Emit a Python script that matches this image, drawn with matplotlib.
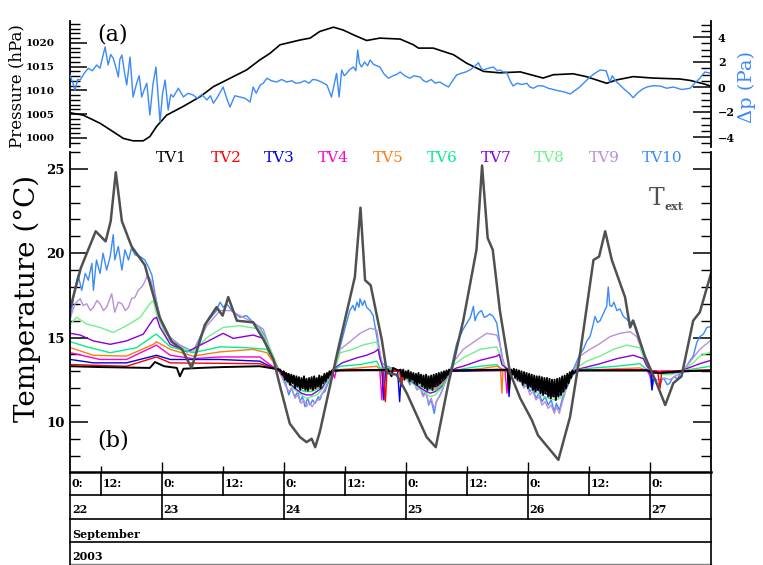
import numpy as np
import matplotlib.pyplot as plt
from matplotlib.ticker import MultipleLocator

plt.rcParams['font.family'] = ['DejaVu Serif']

# time axis: hours since 22 Sep 2003 00:00
# ---- panel (a) ----
pressure = [(6.0, 1005.3), (8.6, 1004.8), (11.9, 1003.1), (14.5, 1001.3), (16.5, 999.9), (18.4, 999.4),
            (20.4, 999.4), (21.7, 1000.3), (23.0, 1002.4), (25.0, 1004.8), (28.2, 1006.6), (31.6, 1008.7),
            (34.2, 1010.8), (36.8, 1012.2), (40.7, 1014.3), (43.3, 1016.4), (45.3, 1017.8), (47.3, 1019.6),
            (51.2, 1020.6), (53.2, 1021.0), (55.1, 1022.4), (57.8, 1023.3), (59.7, 1022.7), (61.7, 1021.7),
            (64.3, 1020.5), (66.9, 1021.0), (70.9, 1020.8), (73.5, 1019.6), (74.5, 1018.9), (77.4, 1018.9),
            (81.4, 1017.5), (84.0, 1015.7), (87.3, 1014.0), (90.5, 1013.7), (94.5, 1013.9), (99.0, 1012.6),
            (101.0, 1013.3), (104.9, 1013.5), (107.5, 1012.9), (111.5, 1011.5), (113.4, 1012.2), (116.7, 1012.9),
            (120.6, 1012.6), (125.9, 1012.4), (127.9, 1012.1), (130.5, 1011.4), (132.0, 1010.9)]

delta_p = [(6.0, 0.96), (6.5, 0.4), (7.0, -0.24), (7.5, 0.6), (8.0, 0.56), (8.8, 1.1), (9.6, 1.5), (10.4, 1.3),
           (11.25, 1.76), (11.9, 1.5), (12.3, 2.2), (12.9, 3.2), (13.5, 1.76), (14.0, 2.6), (14.5, 2.3),
           (15.0, 1.6), (15.5, 0.8), (15.8, 2.2), (16.2, 2.56), (16.7, 1.2), (17.15, 0.16), (17.8, 2.4),
           (18.4, -0.8), (19.1, 0.3), (19.6, 0.9), (20.1, -0.8), (20.6, -0.2), (21.1, 0.3), (21.7, -2.24),
           (22.3, 0.2), (22.9, 1.6), (23.7, -2.8), (24.2, -0.5), (24.7, 0.56), (25.3, -1.84), (25.8, -0.6),
           (26.3, -0.8), (27.3, -0.1), (28.3, -0.8), (29.2, -0.5), (30.2, -0.64), (31.0, -0.9), (31.9, -0.6),
           (32.9, -1.04), (33.6, -0.7), (34.2, -1.3), (35.0, -0.8), (36.1, 0.0), (36.8, -0.9), (37.45, -1.6),
           (38.4, -0.7), (39.4, -0.8), (40.4, -0.9), (41.4, -1.2), (42.0, 0.0), (42.6, -0.5), (43.4, 0.16),
           (44.0, 0.3), (44.7, 0.7), (45.6, 0.5), (46.6, 0.4), (47.6, 0.6), (48.6, 0.4), (49.6, 0.5),
           (50.4, 0.3), (51.2, 0.34), (52.1, 0.5), (53.0, 0.3), (53.7, 0.6), (54.5, 0.56), (55.4, 0.4),
           (56.5, 0.16), (57.4, -0.8), (58.4, 1.1), (58.9, -0.8), (59.4, 1.36), (59.9, 0.9), (60.4, 1.1),
           (61.0, 1.4), (61.7, 1.6), (62.2, 1.3), (62.55, 2.96), (62.9, 1.9), (63.3, 1.6), (63.9, 2.0),
           (64.5, 1.7), (65.0, 2.16), (65.7, 1.8), (66.9, 1.6), (67.8, 1.0), (68.6, 0.7), (69.5, 0.9),
           (70.2, 1.0), (70.9, 1.2), (71.8, 0.9), (72.8, 0.7), (73.6, 0.9), (74.8, 0.8), (75.5, 0.5),
           (76.1, 0.4), (77.0, 0.6), (77.8, 0.3), (78.7, 0.4), (79.5, 0.2), (80.4, 0.0), (81.2, 0.5),
           (82.0, 0.96), (82.9, 1.1), (83.8, 1.2), (84.6, 1.36), (85.4, 1.6), (86.3, 1.94), (86.8, 1.5),
           (87.2, 1.36), (88.2, 1.5), (89.2, 1.6), (90.0, 1.3), (90.5, 1.36), (91.2, 1.2), (91.8, 1.2),
           (92.5, 0.5), (93.1, 0.08), (93.9, 0.3), (94.8, 0.2), (95.8, 0.3), (96.4, 0.0), (97.1, -0.1),
           (98.0, 0.1), (99.0, 0.08), (100.0, -0.1), (101.0, -0.2), (102.0, -0.3), (103.2, -0.4),
           (104.3, -0.56), (105.2, -0.3), (106.2, 0.0), (107.2, 0.4), (108.2, 0.8), (109.2, 1.1),
           (110.2, 1.36), (111.4, 1.3), (112.1, 0.4), (112.6, 0.9), (113.2, 0.5), (114.1, 0.16), (115.0, -0.2),
           (115.9, -0.5), (116.7, -0.86), (117.5, -0.5), (118.4, -0.2), (119.4, 0.0), (120.6, 0.1),
           (122.0, 0.08), (123.3, -0.1), (124.6, 0.0), (126.2, -0.2), (127.9, -0.1), (128.8, 0.3),
           (129.8, 0.7), (130.8, 1.2), (132.0, 1.1)]

# ---- panel (b) ----
text_ext = [(6.1, 16.8), (8.1, 19.1), (11.05, 21.3), (13.0, 20.7), (14.0, 21.9), (15.0, 24.8), (16.2, 21.9),
            (18.1, 20.4), (20.7, 19.3), (23.6, 16.2), (26.0, 14.75), (28.0, 14.3), (29.9, 13.2), (32.5, 15.75),
            (34.8, 16.8), (36.0, 16.3), (37.1, 17.4), (38.8, 16.0), (42.0, 15.9), (44.0, 14.9), (46.0, 13.7),
            (47.3, 12.1), (49.2, 9.9), (51.2, 9.1), (52.5, 8.8), (53.5, 9.0), (54.2, 8.5), (55.1, 9.4),
            (58.7, 14.3), (62.0, 18.6), (63.1, 22.7), (64.0, 18.4), (65.1, 18.1), (67.3, 14.85), (68.3, 12.9),
            (70.2, 12.8), (72.2, 11.7), (76.1, 9.1), (77.9, 8.5), (80.4, 12.3), (83.3, 16.0), (85.9, 20.2),
            (87.0, 25.2), (88.1, 20.9), (89.1, 20.2), (90.5, 16.6), (92.5, 12.9), (94.5, 11.4), (96.8, 10.1),
            (98.0, 9.2), (102.0, 7.75), (104.3, 10.3), (106.2, 13.9), (108.9, 19.6), (110.0, 19.8),
            (111.2, 21.3), (112.5, 19.6), (115.1, 17.4), (116.1, 15.6), (116.7, 16.0), (119.0, 13.9),
            (121.3, 12.3), (123.0, 11.0), (124.6, 12.3), (126.2, 12.7), (128.5, 16.0), (129.8, 16.5),
            (132.0, 18.8)]

tv10 = [(6.1, 16.2), (7.0, 18.0), (7.6, 18.7), (8.3, 17.8), (9.0, 18.8), (9.6, 18.4), (10.3, 19.4), (10.6, 17.8),
        (11.2, 19.6), (11.9, 18.8), (12.5, 20.0), (13.2, 19.0), (13.9, 19.8), (14.5, 21.1), (14.8, 19.6),
        (15.5, 20.4), (16.2, 19.0), (16.8, 20.2), (17.5, 19.6), (18.1, 20.3), (18.8, 19.9), (19.8, 19.8),
        (20.7, 19.6), (21.4, 19.2), (22.1, 18.7), (22.7, 17.6), (23.4, 16.6), (24.3, 15.6), (25.7, 15.0),
        (27.6, 14.55), (30.2, 14.15), (32.9, 15.9), (34.8, 16.6), (35.5, 17.1), (36.1, 16.8), (36.8, 17.0),
        (37.8, 16.6), (39.4, 16.2), (40.7, 16.3), (42.0, 15.9), (43.3, 15.6), (44.7, 14.85), (46.0, 13.6),
        (47.3, 12.9), (48.3, 12.4), (49.0, 11.6), (49.5, 12.0), (50.2, 11.5), (50.8, 11.8), (51.2, 11.2),
        (51.7, 11.5), (52.2, 10.9), (52.7, 11.4), (53.2, 11.0), (53.7, 11.3), (54.2, 11.1), (54.8, 11.5),
        (55.1, 11.3), (55.6, 11.7), (56.1, 11.8), (56.6, 12.2), (57.1, 12.5), (57.6, 13.0), (58.2, 13.4),
        (59.1, 14.45), (60.0, 15.5), (61.0, 16.6), (61.6, 16.9), (62.0, 16.6), (62.4, 17.1), (62.8, 16.8),
        (63.0, 17.3), (63.5, 16.9), (63.9, 17.2), (64.3, 16.8), (65.0, 16.6), (65.6, 16.3), (66.3, 15.05),
        (66.9, 14.0), (67.3, 13.5), (68.3, 13.3), (69.2, 13.2), (70.0, 13.1), (71.0, 13.0), (72.0, 12.7),
        (72.8, 12.2), (73.5, 12.5), (74.2, 11.9), (74.8, 12.1), (75.4, 11.6), (76.0, 11.8), (76.5, 11.0),
        (77.0, 11.3), (77.6, 10.5), (78.0, 11.2), (78.6, 11.5), (79.2, 11.9), (79.8, 12.4), (80.4, 12.9),
        (81.0, 13.3), (82.0, 14.65), (83.3, 15.5), (84.0, 15.85), (84.7, 16.2), (85.3, 16.85), (85.6, 16.0),
        (85.9, 16.25), (86.4, 16.5), (86.9, 16.6), (87.4, 16.2), (87.9, 16.25), (88.5, 16.4), (89.2, 16.25),
        (89.9, 15.85), (90.5, 14.65), (91.2, 13.45), (91.8, 13.1), (92.5, 13.0), (93.3, 12.9), (94.0, 12.5),
        (94.6, 12.7), (95.2, 12.1), (95.8, 12.4), (96.4, 11.8), (97.0, 12.0), (97.6, 11.4), (98.2, 11.7),
        (98.8, 11.2), (99.4, 11.5), (100.0, 11.0), (100.6, 11.3), (101.2, 10.6), (101.6, 11.1), (102.2, 10.7),
        (102.8, 11.4), (103.4, 11.9), (104.0, 12.4), (104.6, 12.9), (105.5, 13.5), (106.2, 14.0), (106.9, 14.3),
        (107.6, 14.8), (108.2, 15.05), (108.7, 15.6), (109.2, 16.25), (109.7, 15.9), (110.2, 16.0),
        (110.8, 16.4), (111.5, 16.85), (111.8, 18.0), (112.1, 16.9), (112.5, 16.85), (112.9, 17.1),
        (113.5, 16.6), (114.1, 16.7), (114.8, 16.25), (115.4, 16.1), (116.1, 15.85), (116.7, 16.05),
        (117.4, 15.5), (118.0, 14.85), (118.7, 14.0), (119.4, 13.45), (120.0, 12.8), (120.4, 11.9),
        (120.8, 12.6), (121.3, 12.3), (122.0, 12.2), (122.5, 12.6), (122.9, 12.5), (123.4, 12.2),
        (123.9, 12.3), (124.4, 12.6), (124.9, 12.7), (125.4, 12.5), (125.9, 12.9), (126.7, 13.1),
        (127.2, 13.3), (127.8, 13.6), (128.5, 13.9), (129.2, 14.7), (129.8, 15.05), (130.5, 15.2),
        (131.2, 15.6), (132.0, 15.65)]

tv9 = [(6.1, 16.2), (7.0, 17.0), (8.0, 17.3), (8.6, 16.9), (9.3, 17.0), (10.0, 16.6), (10.6, 16.8), (11.3, 17.2),
       (11.9, 17.0), (12.6, 16.6), (13.2, 16.8), (14.2, 17.6), (14.8, 16.5), (15.5, 17.1), (16.2, 17.0),
       (16.9, 16.6), (17.5, 16.8), (18.1, 17.3), (18.8, 17.4), (19.4, 17.8), (20.1, 18.0), (20.7, 18.3),
       (21.2, 18.7), (21.9, 18.4),
       (22.7, 17.4), (23.7, 16.2), (25.0, 15.2), (27.0, 14.65), (30.2, 14.15), (32.9, 15.7), (35.5, 16.6),
       (37.5, 16.6), (39.4, 16.3), (42.0, 15.9), (44.0, 15.5), (46.0, 13.7), (47.3, 12.9), (48.3, 12.2),
       (49.0, 11.8), (49.6, 12.0), (50.2, 11.4), (50.8, 11.6), (51.4, 11.1), (52.0, 11.3), (52.5, 10.9),
       (53.0, 11.2), (53.6, 10.9), (54.2, 11.2), (54.8, 11.3), (55.4, 11.6), (56.0, 11.9), (56.6, 12.3),
       (57.1, 12.6), (57.6, 13.0), (58.5, 13.6), (59.1, 14.3), (61.0, 14.75), (63.0, 15.25), (65.0, 15.55),
       (66.3, 15.45), (66.9, 14.2), (67.3, 13.5), (68.3, 13.25), (71.0, 13.0), (72.0, 12.6), (72.8, 12.3),
       (73.5, 12.4), (74.2, 11.9), (74.8, 12.0), (75.4, 11.5), (76.0, 11.7), (76.5, 11.1), (77.0, 11.4),
       (77.6, 10.8), (78.2, 11.3), (78.8, 11.6), (79.4, 12.1), (80.0, 12.5), (80.7, 13.0), (81.5, 13.6),
       (83.3, 14.3), (85.9, 14.85), (87.9, 15.25), (89.9, 15.15), (90.5, 14.6), (90.9, 13.9), (91.5, 13.3),
       (92.5, 13.0), (93.3, 12.8), (94.0, 12.4), (94.6, 12.5), (95.2, 12.0), (95.8, 12.2), (96.4, 11.6),
       (97.0, 11.8), (97.6, 11.3), (98.2, 11.5), (98.8, 11.0), (99.4, 11.2), (100.0, 10.8), (100.6, 11.0),
       (101.2, 10.5), (101.6, 10.9), (102.2, 10.5), (102.8, 11.2), (103.4, 11.8), (104.0, 12.3),
       (104.6, 12.8), (105.5, 13.3), (106.2, 13.9), (108.2, 14.3), (110.2, 14.65), (112.1, 15.05),
       (114.1, 15.25), (116.1, 15.35), (117.4, 15.05), (118.7, 14.05), (119.4, 13.4), (120.0, 13.0),
       (120.6, 12.7), (121.3, 12.5), (122.0, 12.5), (122.9, 12.6), (123.9, 12.5), (124.9, 12.7),
       (125.9, 12.9), (126.7, 13.1), (127.2, 13.3), (128.5, 13.8), (129.8, 14.3), (131.0, 14.6), (132.0, 14.85)]

tv8 = [(6.1, 15.8), (7.3, 16.2), (9.3, 15.8), (11.9, 15.6), (14.5, 15.3), (17.1, 15.7), (19.8, 16.2), (21.7, 17.0),
       (22.4, 17.2), (23.0, 16.4), (25.0, 15.0), (27.0, 14.5), (30.2, 14.15), (32.9, 15.0), (36.1, 15.6),
       (39.4, 15.7), (43.3, 15.5), (45.3, 14.4), (47.3, 12.9), (48.5, 12.4), (50.2, 11.9), (51.5, 11.6),
       (52.5, 11.4), (53.5, 11.5), (54.5, 11.6), (55.5, 11.9), (56.5, 12.4), (57.6, 13.0), (58.5, 13.5),
       (59.1, 14.1), (61.5, 14.3), (63.5, 14.55), (66.3, 14.75), (66.9, 13.8), (67.5, 13.3), (68.3, 13.2),
       (71.0, 13.0), (72.5, 12.5), (74.0, 12.1), (75.5, 11.8), (76.8, 11.5), (77.8, 11.6), (79.0, 12.0),
       (80.0, 12.5), (80.7, 13.0), (81.5, 13.4), (83.3, 13.8), (86.6, 14.3), (89.9, 14.45), (90.9, 13.6),
       (91.8, 13.1), (92.5, 13.0), (94.0, 12.6), (95.5, 12.2), (97.0, 11.9), (98.5, 11.6), (100.0, 11.4),
       (101.3, 11.3), (102.3, 11.4), (103.5, 11.9), (104.6, 12.7), (105.5, 13.2), (107.6, 13.6), (110.2, 13.9),
       (112.8, 14.3), (115.4, 14.55), (118.0, 14.4), (119.0, 13.6), (119.8, 13.2), (121.0, 12.9),
       (122.5, 12.8), (124.0, 12.8), (125.5, 12.9), (126.7, 13.1), (128.5, 13.5), (129.8, 13.9), (132.0, 14.15)]

tv7 = [(6.1, 15.25), (8.0, 15.15), (10.6, 14.8), (13.9, 14.6), (17.1, 14.8), (20.4, 15.2), (22.4, 16.1),
       (23.0, 16.2), (23.7, 15.6), (25.7, 14.6), (29.0, 14.15), (32.9, 14.75), (36.1, 15.25), (38.1, 14.95),
       (42.0, 15.15), (44.0, 14.95), (46.0, 13.7), (47.3, 12.9), (48.5, 12.5), (50.2, 12.0), (51.5, 11.7),
       (52.5, 11.6), (53.5, 11.6), (54.5, 11.8), (55.5, 12.0), (56.5, 12.5), (57.6, 13.0), (58.5, 13.3),
       (59.5, 13.5), (62.4, 13.8), (64.3, 13.95), (65.9, 14.15), (66.6, 14.3), (66.9, 13.8), (67.5, 13.2),
       (68.3, 13.15), (71.0, 13.0), (72.5, 12.6), (74.0, 12.2), (75.5, 11.9), (76.8, 11.7), (77.8, 11.8),
       (79.0, 12.1), (80.0, 12.6), (80.7, 13.0), (82.0, 13.2), (83.3, 13.3), (86.6, 13.65), (89.9, 13.9),
       (90.4, 14.0), (90.9, 13.4), (92.5, 13.0), (94.0, 12.7), (95.5, 12.3), (97.0, 12.0), (98.5, 11.8),
       (100.0, 11.6), (101.3, 11.5), (102.3, 11.6), (103.5, 12.0), (104.6, 12.7), (105.5, 13.1),
       (106.9, 13.2), (110.2, 13.45), (113.5, 13.75), (116.7, 13.95), (118.7, 13.75), (119.4, 13.3),
       (120.5, 13.0), (122.5, 12.9), (124.5, 12.9), (126.7, 13.1), (128.5, 13.3), (129.8, 13.45), (132.0, 13.65)]

tv6 = [(6.1, 14.75), (9.3, 14.45), (13.9, 14.1), (19.1, 14.4), (22.4, 15.1), (23.0, 15.2), (25.7, 14.45),
       (30.2, 14.1), (35.5, 14.45), (40.7, 14.4), (44.7, 14.3), (46.6, 13.3), (47.6, 12.9), (49.0, 12.5),
       (50.5, 12.1), (52.0, 11.8), (53.5, 11.8), (55.0, 12.0), (56.5, 12.5), (57.6, 13.0), (59.1, 13.3),
       (63.0, 13.4), (66.3, 13.6), (66.9, 13.2), (71.0, 13.0), (72.5, 12.6), (74.5, 12.2), (76.5, 11.9),
       (78.0, 11.9), (79.5, 12.3), (80.7, 13.0), (83.3, 13.15), (86.6, 13.3), (89.9, 13.4), (90.9, 13.1),
       (92.5, 13.0), (94.0, 12.7), (96.0, 12.3), (98.0, 12.0), (100.0, 11.8), (101.5, 11.7), (103.0, 11.9),
       (104.6, 12.7), (106.0, 13.1), (109.0, 13.2), (113.5, 13.3), (118.0, 13.45), (119.4, 13.1),
       (121.0, 12.95), (124.0, 12.9), (126.7, 13.05), (129.8, 13.2), (132.0, 13.3)]

tv5 = [(6.1, 14.4), (10.6, 13.95), (17.1, 13.9), (22.4, 14.6), (23.0, 14.75), (25.7, 14.3), (30.2, 13.9),
       (35.5, 14.15), (42.0, 14.3), (44.7, 14.1), (47.3, 12.95), (49.0, 12.6), (50.5, 12.2), (52.0, 12.0),
       (53.5, 11.9), (55.0, 12.1), (56.5, 12.6), (57.6, 13.0), (59.1, 13.1), (66.3, 13.3), (66.9, 13.1),
       (71.0, 13.0), (72.5, 12.7), (74.5, 12.3), (76.5, 12.0), (78.0, 12.0), (79.5, 12.4), (80.7, 13.0),
       (86.6, 13.15), (89.9, 13.3), (90.6, 13.2), (90.9, 11.7), (91.1, 13.1), (92.5, 13.0), (94.0, 12.7),
       (96.0, 12.4), (98.0, 12.1), (100.0, 11.9), (101.5, 11.8), (103.0, 12.0), (104.6, 12.8), (106.0, 13.05),
       (113.5, 13.15), (118.0, 13.2), (119.4, 13.05), (124.0, 12.95), (127.0, 13.05), (132.0, 13.1)]

tv4 = [(6.1, 14.1), (11.9, 13.7), (17.1, 13.7), (23.0, 14.55), (25.7, 13.95), (30.2, 13.75), (35.5, 13.85),
       (43.3, 13.85), (47.3, 12.95), (49.0, 12.6), (50.5, 12.3), (52.0, 12.1), (53.5, 12.0), (55.0, 12.2),
       (56.5, 12.6), (57.6, 13.0), (58.0, 12.6), (58.3, 13.0), (59.1, 13.05), (66.3, 13.1), (66.9, 13.05),
       (67.3, 11.3), (67.6, 13.0), (71.0, 13.0), (72.5, 12.7), (74.5, 12.4), (76.5, 12.1), (78.0, 12.1),
       (79.5, 12.5), (80.7, 13.0), (89.9, 13.1), (91.5, 13.05), (91.9, 11.7), (92.2, 13.0), (94.0, 12.8),
       (96.0, 12.5), (98.0, 12.2), (100.0, 12.0), (101.5, 11.9), (103.0, 12.1), (104.6, 12.8), (106.0, 13.05),
       (119.4, 13.1), (120.2, 12.6), (120.5, 13.0), (132.0, 13.05)]

tv3 = [(6.1, 13.7), (10.6, 13.5), (17.1, 13.5), (23.0, 13.95), (25.7, 13.7), (35.5, 13.7), (43.3, 13.6),
       (47.3, 13.0), (49.0, 12.7), (50.5, 12.4), (52.0, 12.2), (53.5, 12.1), (55.0, 12.3), (56.5, 12.7),
       (57.6, 13.0), (59.1, 13.05), (67.3, 13.05), (67.7, 11.3), (68.0, 13.0), (70.4, 13.0), (70.8, 11.2),
       (71.1, 12.9), (72.5, 12.7), (74.5, 12.4), (76.5, 12.2), (78.0, 12.1), (79.5, 12.5), (80.7, 13.0),
       (92.0, 13.05), (92.3, 11.5), (92.6, 12.9), (94.0, 12.8), (96.0, 12.5), (98.0, 12.3), (100.0, 12.1),
       (101.5, 12.0), (103.0, 12.2), (104.6, 12.8), (106.0, 13.05), (119.4, 13.05), (120.2, 12.9),
       (120.4, 11.9), (120.7, 12.9), (132.0, 13.05)]

tv2 = [(6.1, 13.4), (17.1, 13.3), (23.0, 13.85), (25.7, 13.5), (43.3, 13.45), (47.3, 13.05), (49.0, 12.8),
       (50.5, 12.5), (52.0, 12.3), (53.5, 12.2), (55.0, 12.4), (56.5, 12.8), (57.6, 13.05), (59.1, 13.05),
       (67.6, 13.05), (68.0, 11.2), (68.3, 13.0), (70.8, 13.0), (71.2, 12.1), (71.5, 12.95), (72.5, 12.75),
       (74.5, 12.5), (76.5, 12.3), (78.0, 12.2), (79.5, 12.6), (80.7, 13.05), (92.5, 13.05), (94.0, 12.85),
       (96.0, 12.6), (98.0, 12.4), (100.0, 12.2), (101.5, 12.1), (103.0, 12.3), (104.6, 12.9), (106.0, 13.05),
       (119.4, 13.05), (121.5, 13.0), (122.0, 12.0), (122.3, 13.0), (132.0, 13.05)]

tv1_day = [(6.1, 13.3), (12.0, 13.25), (21.7, 13.2), (22.7, 13.55), (24.5, 13.3), (27.0, 13.2), (27.6, 12.7),
           (28.3, 13.15), (31.5, 13.2), (36.0, 13.25), (43.3, 13.3), (47.3, 13.1), (58.0, 13.05), (67.0, 13.08),
           (68.5, 13.1), (69.2, 12.7), (69.5, 13.2), (70.5, 13.05), (80.8, 13.05), (92.0, 13.1), (92.3, 11.9),
           (92.5, 13.0), (105.5, 13.05), (119.5, 13.05), (120.5, 12.95), (122.0, 12.9), (124.0, 12.95),
           (126.0, 13.0), (132.0, 13.05)]
# cold nights, one reading every 15 min
tv1_night_a_start = 47.5
tv1_night_a = [13.0, 12.8, 13.0, 12.5, 12.9, 12.4, 12.85, 12.2, 12.8, 12.3, 12.75, 12.0, 12.7, 12.1, 12.65, 11.9,
               12.6, 12.0, 12.7, 11.9, 12.55, 11.85, 12.6, 12.0, 12.65, 11.9, 12.7, 12.0, 12.6, 12.1, 12.75, 12.0,
               12.7, 12.3, 12.85, 12.4, 12.9, 12.6, 13.0, 12.8, 13.05]
tv1_night_b_start = 71.0
tv1_night_b = [13.1, 12.7, 13.1, 12.5, 13.0, 12.6, 13.05, 12.4, 12.95, 12.5, 12.9, 12.3, 12.85, 12.2, 12.9, 12.3,
               12.8, 12.1, 12.75, 12.0, 12.8, 11.9, 12.7, 12.0, 12.75, 11.9, 12.8, 12.1, 12.85, 12.2, 12.9, 12.3,
               12.95, 12.5, 13.0, 12.6, 13.05, 12.8, 13.1]
tv1_night_c_start = 92.75
tv1_night_c = [13.1, 12.8, 13.15, 12.6, 13.1, 12.5, 13.05, 12.4, 13.0, 12.2, 12.95, 12.3, 12.9, 12.0, 12.85, 12.1,
               12.8, 11.9, 12.75, 11.8, 12.7, 11.9, 12.7, 11.7, 12.65, 11.6, 12.6, 11.7, 12.6, 11.5, 12.55, 11.4,
               12.5, 11.5, 12.5, 11.3, 12.55, 11.5, 12.6, 11.6, 12.7, 11.8, 12.75, 12.0, 12.85, 12.3, 12.95, 12.6,
               13.05, 12.9]

tv_names = ['TV1', 'TV2', 'TV3', 'TV4', 'TV5', 'TV6', 'TV7', 'TV8', 'TV9', 'TV10']
tv_colors = ['#000000', '#ff0000', '#0000e8', '#ff00cc', '#ff7a10', '#00f090',
             '#8a00d6', '#70f08a', '#b890d8', '#3a8af8']
blue = '#3a8af8'
grey = '#505050'

# day axis table
hour_ticks = [12, 24, 36, 48, 60, 72, 84, 96, 108, 120]
hour_cells = [6, 12, 24, 36, 48, 60, 72, 84, 96, 108, 120]
hour_text = ['0:', '12:', '0:', '12:', '0:', '12:', '0:', '12:', '0:', '12:', '0:']
day_cells = [6, 24, 48, 72, 96, 120]
day_text = ['22', '23', '24', '25', '26', '27']


def unzip(pairs):
    a = np.array(pairs)
    return a[:, 0], a[:, 1]


def night(start, vals):
    return [(start + 0.25 * i, v) for i, v in enumerate(vals)]


tv1 = sorted(tv1_day + night(tv1_night_a_start, tv1_night_a)
             + night(tv1_night_b_start, tv1_night_b) + night(tv1_night_c_start, tv1_night_c))
tv_series = [tv1, tv2, tv3, tv4, tv5, tv6, tv7, tv8, tv9, tv10]

W, H = 763, 565
fig = plt.figure(figsize=(W / 100, H / 100), dpi=100)
L, R = 70, 711


def box(top, bottom):
    return [L / W, 1 - bottom / H, (R - L) / W, (bottom - top) / H]


xlim = (6, 132)

# ---------- (a) ----------
axa = fig.add_axes(box(21, 147))
axa2 = axa.twinx()
x, y = unzip(pressure)
axa.plot(x, y, color='black', lw=1.2)
x, y = unzip(delta_p)
axa2.plot(x, y, color=blue, lw=1.0)
axa.set_xlim(*xlim)
axa.set_ylim(998.1, 1024.6)
axa2.set_ylim(-4.8, 5.28)
for a in (axa, axa2):
    for s in ('top', 'bottom'):
        a.spines[s].set_visible(False)
    a.set_xticks([])
axa.spines['right'].set_visible(False)
axa2.spines['left'].set_visible(False)
axa.spines['left'].set_linewidth(1.3)
axa2.spines['right'].set_linewidth(1.3)
axa.set_yticks([1000, 1005, 1010, 1015, 1020])
axa.yaxis.set_minor_locator(MultipleLocator(1))
axa.tick_params(axis='y', which='major', direction='in', length=12, width=1.1, pad=11, labelsize=7.5)
axa.tick_params(axis='y', which='minor', direction='in', length=7, width=1)
axa2.set_yticks([-4, -2, 0, 2, 4])
axa2.yaxis.set_minor_locator(MultipleLocator(0.5))
axa2.tick_params(axis='y', which='major', direction='in', length=13, width=1.1, pad=5, labelsize=8)
axa2.tick_params(axis='y', which='minor', direction='in', length=7, width=1)
for lab in axa.get_yticklabels() + axa2.get_yticklabels():
    lab.set_fontweight('bold')

# ---------- (b) ----------
axb = fig.add_axes(box(152, 472))
for pairs, c in reversed(list(zip(tv_series, tv_colors))):
    x, y = unzip(pairs)
    axb.plot(x, y, color=c, lw=1.0 if c != '#000000' else 1.4)
x, y = unzip(text_ext)
axb.plot(x, y, color=grey, lw=1.8)
axb.set_xlim(*xlim)
axb.set_ylim(7.03, 26.0)
axb.spines['top'].set_visible(False)
axb.spines['bottom'].set_visible(False)
axb.spines['left'].set_linewidth(1.3)
axb.spines['right'].set_linewidth(1.3)
axb.set_yticks([10, 15, 20, 25])
axb.yaxis.set_minor_locator(MultipleLocator(1))
axb.tick_params(axis='y', which='major', direction='in', length=13, width=1.1, pad=4,
                labelsize=9.5, right=True)
axb.tick_params(axis='y', which='minor', direction='in', length=7, width=1, right=True)
for lab in axb.get_yticklabels():
    lab.set_fontweight('bold')
axb.set_xticks([24, 48, 72, 96, 120])
axb.set_xticks([12, 36, 60, 84, 108], minor=True)
axb.tick_params(axis='x', which='major', direction='in', length=7, width=1, labelbottom=False)
axb.tick_params(axis='x', which='minor', direction='in', length=4, width=1)

legend_x = [171, 226, 279, 333, 388, 442, 496, 549, 604, 662]
for name, c, px in zip(tv_names, tv_colors, legend_x):
    fig.text(px / W, 1 - 158 / H, name, color=c, fontsize=11, ha='center', va='center')

fig.text(657 / W, 1 - 199 / H, 'T', color=grey, fontsize=17, ha='center', va='center')
fig.text(674 / W, 1 - 207 / H, 'ext', color=grey, fontsize=8, fontweight='bold', ha='center', va='center')

# ---------- date table ----------
axt = fig.add_axes(box(472, 565))
axt.set_xlim(*xlim)
axt.set_ylim(4, 0)
axt.axis('off')
axt.plot(xlim, [0, 0], color='black', lw=1.8, clip_on=False)
for r in (1, 2, 3):
    axt.plot(xlim, [r, r], color='black', lw=1.2, clip_on=False)
axt.plot(xlim, [3.97, 3.97], color='#808080', lw=1.0, clip_on=False)
for xv in xlim:
    axt.plot([xv, xv], [0, 4], color='black', lw=1.2, clip_on=False)
for xv in hour_ticks:
    axt.plot([xv, xv], [0, 1], color='black', lw=1.2)
for xv in day_cells[1:]:
    axt.plot([xv, xv], [1, 2], color='black', lw=1.2)
tkw = dict(fontsize=8, fontweight='bold', ha='left', va='center')
for xv, t in zip(hour_cells, hour_text):
    axt.text(xv + 0.35, 0.5, t, **tkw)
for xv, t in zip(day_cells, day_text):
    axt.text(xv + 0.35, 1.6, t, **tkw)
axt.text(6.35, 2.7, 'September', **tkw)
axt.text(6.35, 3.65, '2003', **tkw)

# ---------- labels ----------
fig.text(17 / W, 1 - 86 / H, 'Pressure (hPa)', rotation=90, fontsize=12, ha='center', va='center')
fig.text(747 / W, 1 - 87 / H, '\u0394p (Pa)', rotation=90, fontsize=14, color=blue, ha='center', va='center')
fig.text(27 / W, 1 - 298 / H, 'Temperature (\u00b0C)', rotation=90, fontsize=20, ha='center', va='center')
fig.text(113 / W, 1 - 35 / H, '(a)', fontsize=16, ha='center', va='center')
fig.text(113 / W, 1 - 440 / H, '(b)', fontsize=16, ha='center', va='center')

fig.savefig('out.png', dpi=100)
